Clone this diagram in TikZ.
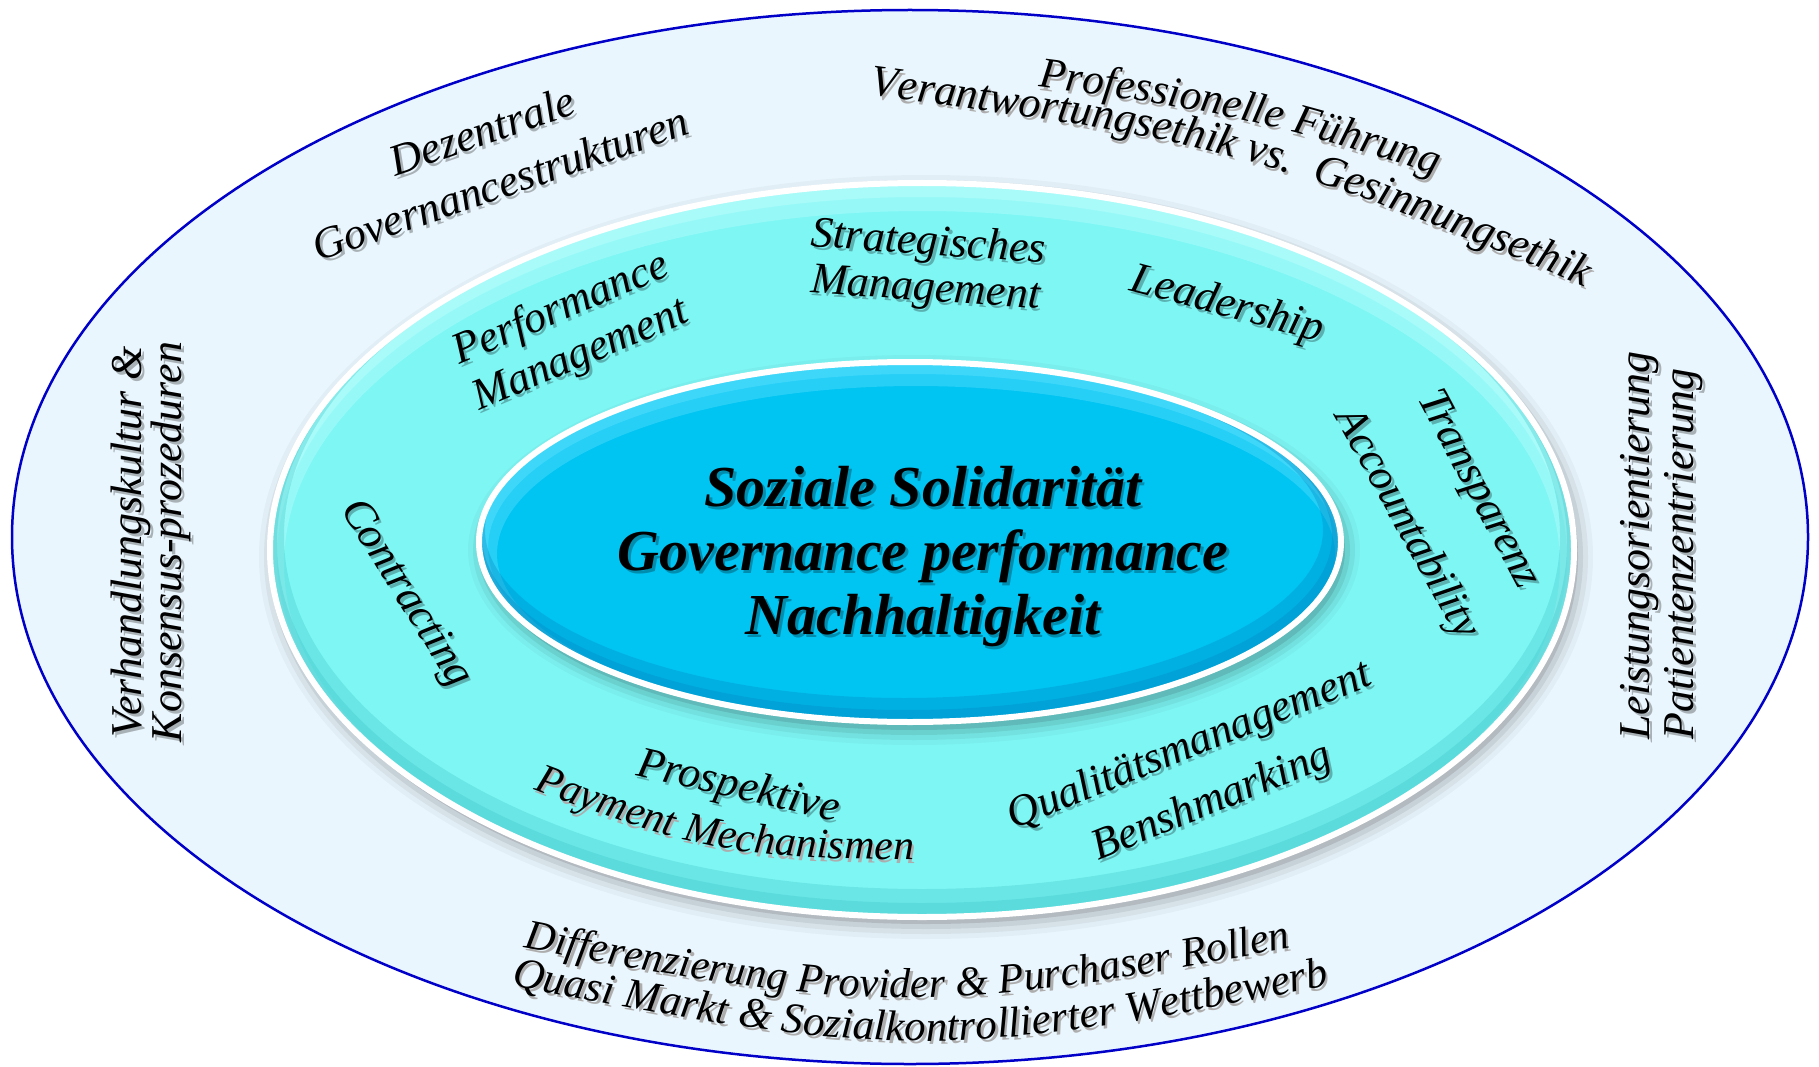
\documentclass[tikz,border=0pt]{standalone}
\usepackage{fontspec}
\setmainfont{Liberation Serif}
\usetikzlibrary{decorations.text}
\definecolor{outerfill}{RGB}{234,246,253}
\definecolor{outerline}{RGB}{0,0,200}
\definecolor{midfill}{RGB}{126,246,244}
\definecolor{midlight}{RGB}{200,255,255}
\definecolor{middark}{RGB}{60,195,200}
\definecolor{innerfill}{RGB}{0,196,242}
\definecolor{innerlight}{RGB}{110,230,255}
\definecolor{innerdark}{RGB}{0,130,190}
\newcommand{\arcfont}[1]{\fontsize{#1}{#1}\selectfont\itshape}
% shadowed text node: #1 name, #2 options, #3 position, #4 text
\newcommand{\stxt}[4]{%
  \node[xshift=2.5pt,yshift=-3pt,#2,opacity=0.28] (#1-sh) at #3 {#4};
  \node[#2] (#1) at #3 {#4};}
% text along a parabola: #1 x, #2 y (vertex), #3 angle, #4 half length, #5 end y, #6 control y, #7 size, #8 text
\newcommand{\arctxt}[8]{%
  \begin{scope}[shift={(#1,#2)},rotate=#3]
    \path[xshift=2.5pt,yshift=-3pt,decorate,decoration={text along path,text align=center,text color=black!32,text={|\arcfont{#7}|#8}}] (-#4,#5) .. controls (0,#6) .. (#4,#5);
    \path[decorate,decoration={text along path,text align=center,text color=black,text={|\arcfont{#7}|#8}}] (-#4,#5) .. controls (0,#6) .. (#4,#5);
  \end{scope}}
\begin{document}
\begin{tikzpicture}[x=1pt,y=-1pt,
  ring/.style={font=\fontsize{44}{#1}\selectfont\itshape,align=center,inner sep=0pt},
  ring/.default=46]
\useasboundingbox (0,0) rectangle (1819,1067);
\fill[white] (0,0) rectangle (1819,1067);
% outer ellipse
\draw[outerline,line width=2.5,fill=outerfill] (910,537) ellipse [x radius=898,y radius=527];
% middle ellipse: shadow, fill, bevel, white rim
\foreach \d/\o in {0/0.10,5/0.07,10/0.05,15/0.03}
  \fill[black,opacity=\o] (926,557) ellipse [x radius=652+\d,y radius=367+\d];
\fill[midfill] (922,550) ellipse [x radius=652,y radius=367];
\begin{scope}
  \clip (922,550) ellipse [x radius=652,y radius=367];
  \draw[midlight,opacity=0.35,line width=28] (922,564) ellipse [x radius=652,y radius=367];
  \draw[midlight,opacity=0.35,line width=14] (922,557) ellipse [x radius=652,y radius=367];
  \draw[middark,opacity=0.3,line width=28] (922,536) ellipse [x radius=652,y radius=367];
  \draw[middark,opacity=0.3,line width=14] (922,543) ellipse [x radius=652,y radius=367];
\end{scope}
\draw[white,line width=6] (922,550) ellipse [x radius=652,y radius=367];
% inner ellipse
\foreach \d/\o in {0/0.10,5/0.07,10/0.05,15/0.03}
  \fill[black,opacity=\o] (914,550) ellipse [x radius=431+\d,y radius=180+\d];
\fill[innerfill] (910,542) ellipse [x radius=431,y radius=180];
\begin{scope}
  \clip (910,542) ellipse [x radius=431,y radius=180];
  \draw[innerlight,opacity=0.35,line width=24] (916,554) ellipse [x radius=431,y radius=180];
  \draw[innerlight,opacity=0.35,line width=12] (913,548) ellipse [x radius=431,y radius=180];
  \draw[innerdark,opacity=0.3,line width=24] (904,530) ellipse [x radius=431,y radius=180];
  \draw[innerdark,opacity=0.3,line width=12] (907,536) ellipse [x radius=431,y radius=180];
\end{scope}
\draw[white,line width=6] (910,542) ellipse [x radius=431,y radius=180];
% centre text
\stxt{core}{font=\fontsize{58}{64}\selectfont\bfseries\itshape,align=center,inner sep=0pt}{(923,557)}{Soziale Solidarität\\Governance performance\\Nachhaltigkeit}
% outer ring texts
\stxt{dez}{ring=56,rotate=19}{(491,157)}{Dezentrale\\Governancestrukturen}
\stxt{verh}{ring=40,rotate=90}{(151,542)}{Verhandlungskultur \&\\Konsensus-prozeduren}
\stxt{leist}{ring=44,rotate=90,align=left,anchor=west}{(1662,740)}{Leistungsorientierung\\Patientenzentrierung}
\arctxt{1238}{127}{-12.5}{330}{16}{-16}{43}{Professionelle Führung}
\arctxt{1232}{172}{-15}{450}{30}{-30}{44}{Verantwortungsethik vs.{\ } Gesinnungsethik}
\arctxt{907}{972}{0}{520}{-51}{51}{42}{Differenzierung Provider {\&} Purchaser Rollen}
\arctxt{920}{1015}{0}{520}{-52}{52}{43}{Quasi Markt {\&} Sozialkontrollierter Wettbewerb}
% middle ring texts
\stxt{perf}{ring=50,rotate=23}{(571,333)}{Performance\\Management}
\stxt{strat}{ring=46,rotate=-4}{(927,267)}{Strategisches\\Management}
\stxt{lead}{ring,rotate=-15}{(1227,306)}{Leadership}
\stxt{trans}{ring,rotate=-62}{(1477,490)}{Transparenz}
\stxt{acc}{ring,rotate=-61}{(1406,524)}{Accountability}
\stxt{contr}{ring,rotate=-58}{(405,594)}{Contracting}
\stxt{prosp}{ring,rotate=-13}{(738,788)}{Prospektive}
\arctxt{722}{833}{-10.5}{300}{-29}{29}{42}{Payment Mechanismen}
\stxt{qual}{ring=60,rotate=22}{(1201,775)}{Qualitätsmanagement\\Benshmarking}
\end{tikzpicture}
\end{document}
